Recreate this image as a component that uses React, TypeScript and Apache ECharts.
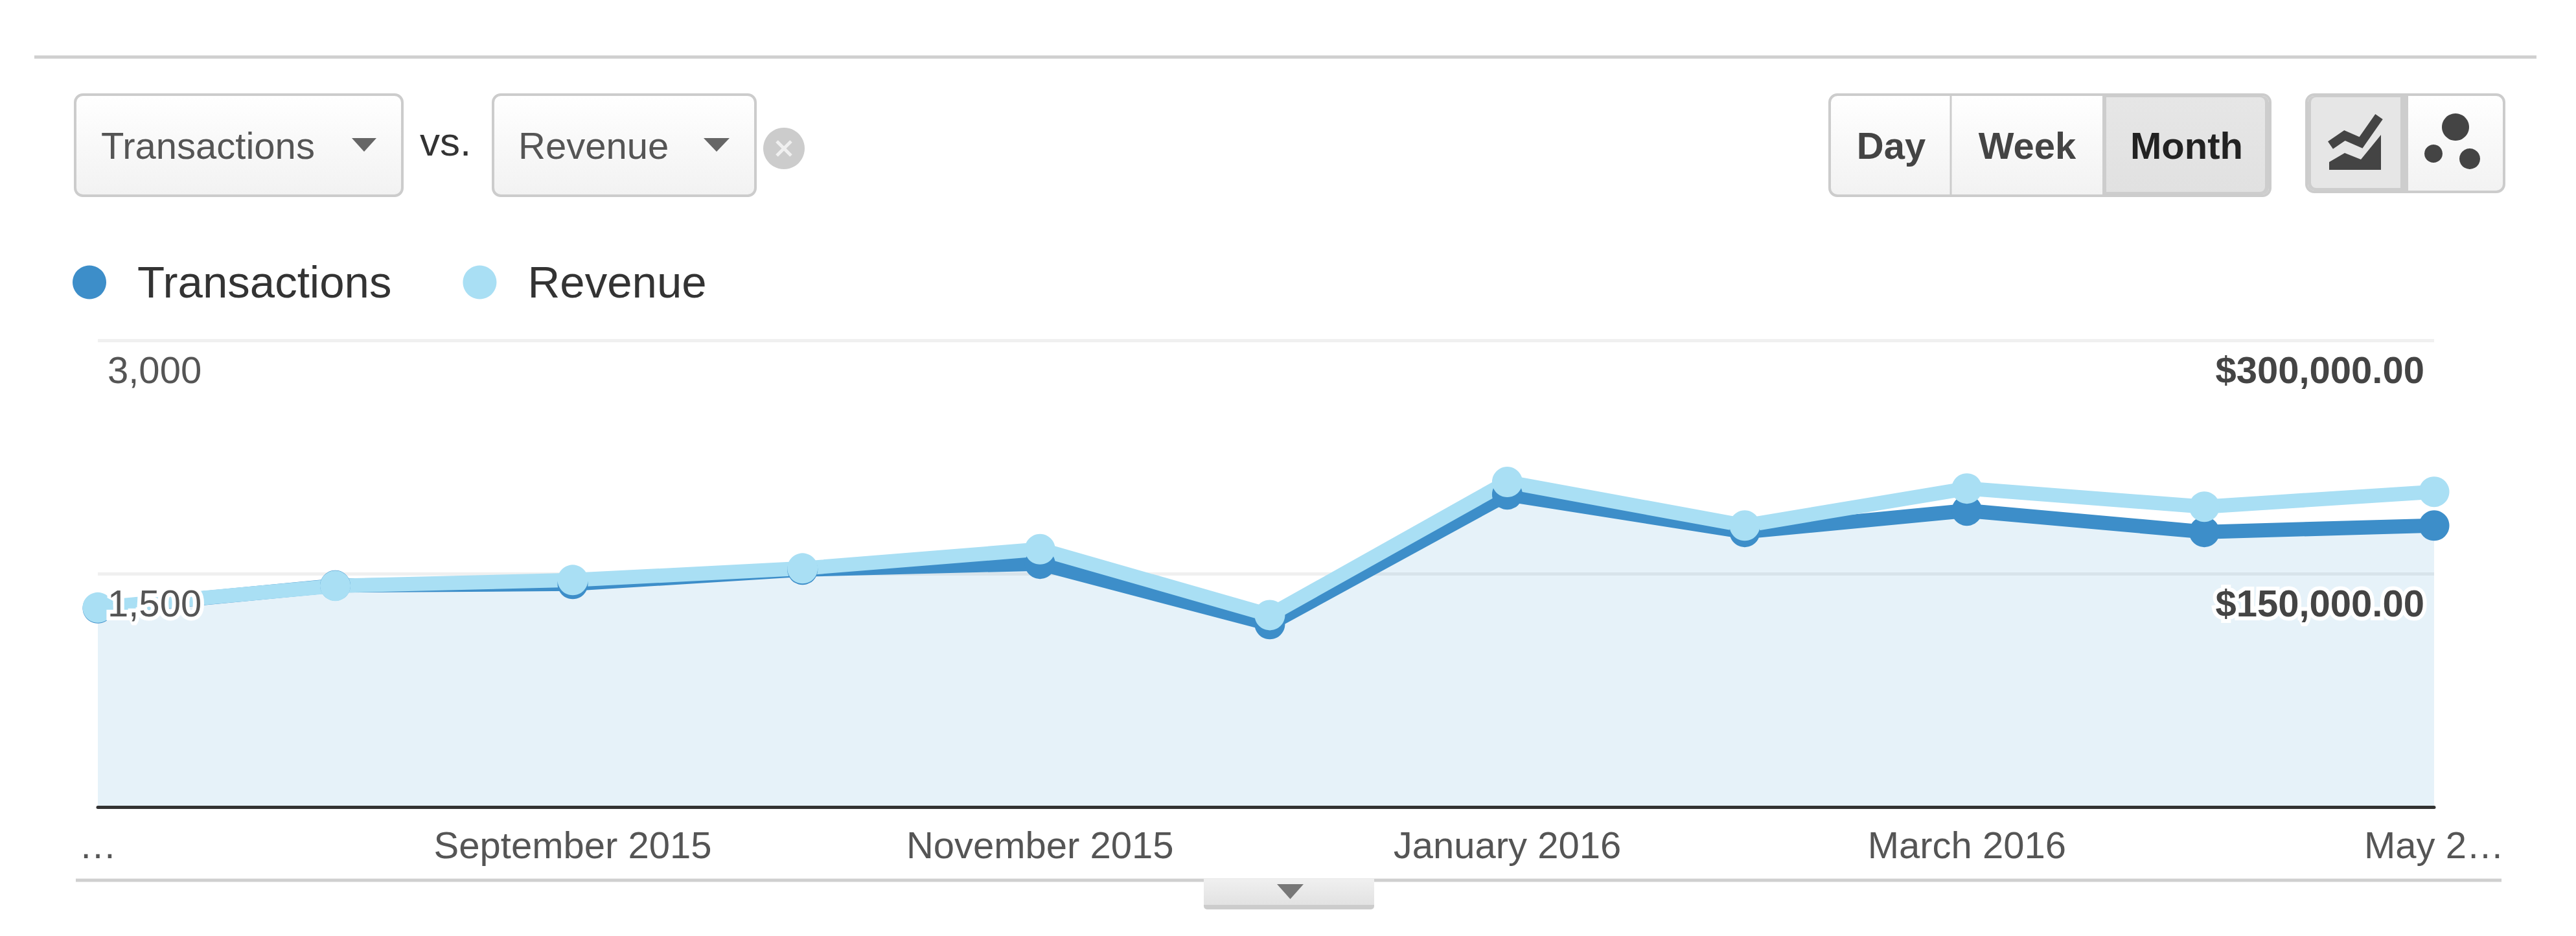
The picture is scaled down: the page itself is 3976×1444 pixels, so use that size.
import React, { useEffect, useRef } from "react";
import * as echarts from "echarts";

const months = [
  "2015-07-01", "2015-08-01", "2015-09-01", "2015-10-01", "2015-11-01", "2015-12-01",
  "2016-01-01", "2016-02-01", "2016-03-01", "2016-04-01", "2016-05-01",
];
const transactions = [1279, 1425, 1435, 1527, 1565, 1177, 2010, 1769, 1906, 1769, 1810];
const revenue = [128300, 142300, 146000, 153500, 165800, 123500, 209000, 181000, 204800, 193100, 202700];
const tickDates = ["2015-07-01", "2015-09-01", "2015-11-01", "2016-01-01", "2016-03-01", "2016-05-01"];
const tickLabels = ["…", "September 2015", "November 2015", "January 2016", "March 2016", "May 2…"];
const FONT = '"Liberation Sans", Arial, sans-serif';
const ms = (d: string) => new Date(d + "T00:00:00Z").getTime();

const vGrad = (a: string, b: string) =>
  new echarts.graphic.LinearGradient(0, 0, 0, 1, [
    { offset: 0, color: a },
    { offset: 1, color: b },
  ]);

const label = (text: string, x: number, y: number, size: number, fill: string, weight = "normal", align = "left") => ({
  type: "text",
  z: 20,
  style: { text, x, y, fontSize: size, fontFamily: FONT, fontWeight: weight, fill, textAlign: align, textVerticalAlign: "middle" },
});
const hr = (x1: number, x2: number, y: number) => ({
  type: "line",
  z: 1,
  shape: { x1, y1: y, x2, y2: y },
  style: { stroke: "#cfcfcf", lineWidth: 5 },
});
const tri = (x1: number, x2: number, y1: number, y2: number, fill: string) => ({
  type: "polygon",
  z: 20,
  shape: { points: [[x1, y1], [x2, y1], [(x1 + x2) / 2, y2]] },
  style: { fill },
});
const box = (x: number, y: number, width: number, height: number, r: any, fill: any, stroke?: string, z = 10) => ({
  type: "rect",
  z,
  shape: { x, y, width, height, r },
  style: stroke ? { fill, stroke, lineWidth: 4 } : { fill },
});
const dot = (cx: number, cy: number, r: number, fill: string) => ({
  type: "circle",
  z: 20,
  shape: { cx, cy, r },
  style: { fill },
});

function chrome() {
  const g: any[] = [];
  g.push(hr(53, 3915, 88));
  g.push(hr(117, 3861, 1358));
  // metric selectors
  g.push(box(116, 146, 505, 156, 12, vGrad("#ffffff", "#f2f2f2"), "#cccccc"));
  g.push(label("Transactions", 156, 224, 58, "#555555"));
  g.push(tri(543, 581, 213, 234, "#666666"));
  g.push(label("vs.", 648, 218, 62, "#333333"));
  g.push(box(761, 146, 405, 156, 12, vGrad("#ffffff", "#f2f2f2"), "#cccccc"));
  g.push(label("Revenue", 800, 224, 58, "#555555"));
  g.push(tri(1086, 1126, 213, 234, "#666666"));
  g.push(dot(1210, 229, 32, "#cccccc"));
  g.push({ type: "line", z: 21, shape: { x1: 1199, y1: 218, x2: 1221, y2: 240 }, style: { stroke: "#f0f0f0", lineWidth: 5 } });
  g.push({ type: "line", z: 21, shape: { x1: 1221, y1: 218, x2: 1199, y2: 240 }, style: { stroke: "#f0f0f0", lineWidth: 5 } });
  // Day / Week / Month
  g.push(box(2824, 146, 680, 156, 12, vGrad("#ffffff", "#f2f2f2"), "#cccccc"));
  g.push(box(3245, 148, 257, 152, [0, 10, 10, 0], "#cdcdcd", undefined, 11));
  g.push(box(3251, 150, 245, 146, [0, 8, 8, 0], vGrad("#e6e6e6", "#e1e1e1"), undefined, 12));
  g.push({ type: "line", z: 12, shape: { x1: 3011, y1: 148, x2: 3011, y2: 300 }, style: { stroke: "#cccccc", lineWidth: 3 } });
  g.push(label("Day", 2919, 224, 58, "#444444", "bold", "center"));
  g.push(label("Week", 3129, 224, 58, "#444444", "bold", "center"));
  g.push(label("Month", 3375, 224, 58, "#222222", "bold", "center"));
  // chart-type toggle
  g.push(box(3560, 146, 305, 150, 12, vGrad("#ffffff", "#f2f2f2"), "#cccccc"));
  g.push(box(3562, 148, 155, 146, [10, 0, 0, 10], "#cdcdcd", undefined, 11));
  g.push(box(3567, 150, 138, 140, [8, 0, 0, 8], "#e6e6e6", undefined, 12));
  g.push({
    type: "polyline",
    z: 20,
    shape: { points: [[3597, 224], [3619, 209], [3644, 220], [3672, 180]] },
    style: { stroke: "#444444", lineWidth: 14, fill: "none" },
  });
  g.push({
    type: "polygon",
    z: 20,
    shape: { points: [[3595, 250], [3619, 236], [3644, 246], [3675, 208], [3675, 262], [3595, 262]] },
    style: { fill: "#444444" },
  });
  g.push(dot(3790, 196, 21, "#444444"));
  g.push(dot(3756, 237, 14, "#444444"));
  g.push(dot(3812, 245, 16, "#444444"));
  // collapse tab
  g.push(box(1858, 1356, 263, 40, 0, vGrad("#f0f0f0", "#e2e2e2"), undefined, 10));
  g.push(box(1858, 1396, 263, 7, [0, 0, 5, 5], "#cccccc", undefined, 10));
  g.push(tri(1971, 2012, 1364, 1387, "#777777"));
  return g;
}

export default function App() {
  const ref = useRef<HTMLDivElement>(null);
  useEffect(() => {
    document.body.style.margin = "0";
    const chart = echarts.init(ref.current!, undefined, { renderer: "svg" });
    const yBase = { type: "value", min: 0, max: 3000, interval: 1500, axisLine: { show: false }, axisTick: { show: false }, splitLine: { show: false } };
    const yLabel = {
      inside: true,
      margin: 15,
      showMinLabel: false,
      verticalAlign: "top",
      padding: [16, 0, 0, 0],
      fontSize: 58,
      fontFamily: FONT,
      color: "#555555",
      textBorderColor: "#ffffff",
      textBorderWidth: 12,
    };
    chart.setOption({
      animation: false,
      backgroundColor: "#ffffff",
      graphic: chrome(),
      legend: {
        left: 107,
        top: 396,
        icon: "circle",
        itemWidth: 52,
        itemHeight: 52,
        itemGap: 110,
        data: ["Transactions", "Revenue"],
        textStyle: { fontSize: 69, fontFamily: FONT, color: "#333333", padding: [0, 0, 0, 43] },
      },
      grid: { left: 151, right: 219, top: 525, height: 720.5 },
      xAxis: {
        type: "value",
        z: 3,
        min: ms(months[0]),
        max: ms(months[months.length - 1]),
        axisLine: { show: true, lineStyle: { color: "#333333", width: 5 } },
        axisTick: { show: false },
        splitLine: { show: false },
        axisLabel: {
          customValues: tickDates.map(ms),
          margin: 29,
          fontSize: 58,
          fontFamily: FONT,
          color: "#555555",
          formatter: (v: number) => tickLabels[tickDates.findIndex((d) => ms(d) === v)] ?? "",
        },
      },
      yAxis: [
        {
          ...yBase,
          z: 10,
          position: "left",
          axisLabel: { ...yLabel, formatter: (v: number) => v.toLocaleString("en-US") },
        },
        {
          ...yBase,
          z: 10,
          position: "right",
          max: 300000,
          interval: 150000,
          axisLabel: {
            ...yLabel,
            fontWeight: "bold",
            color: "#444444",
            formatter: (v: number) => "$" + v.toLocaleString("en-US", { minimumFractionDigits: 2 }),
          },
        },
        {
          ...yBase,
          z: 0,
          position: "left",
          axisLabel: { show: false },
          splitLine: { show: true, lineStyle: { color: "rgba(0,0,0,0.06)", width: 5 } },
        },
      ],
      series: [
        {
          name: "Transactions",
          type: "line",
          z: 2,
          clip: false,
          yAxisIndex: 0,
          symbol: "circle",
          symbolSize: 47,
          showAllSymbol: true,
          data: months.map((m, i) => [ms(m), transactions[i]]),
          lineStyle: { color: "#3d8ec9", width: 22 },
          itemStyle: { color: "#3d8ec9" },
          areaStyle: { color: "#1e8ac5", opacity: 0.11 },
        },
        {
          name: "Revenue",
          type: "line",
          z: 2,
          clip: false,
          yAxisIndex: 1,
          symbol: "circle",
          symbolSize: 47,
          showAllSymbol: true,
          data: months.map((m, i) => [ms(m), revenue[i]]),
          lineStyle: { color: "#a9dff4", width: 22 },
          itemStyle: { color: "#a9dff4" },
        },
      ],
    });
    return () => chart.dispose();
  }, []);
  return <div ref={ref} style={{ position: "absolute", left: 0, top: 0, width: 3976, height: 1444 }} />;
}
